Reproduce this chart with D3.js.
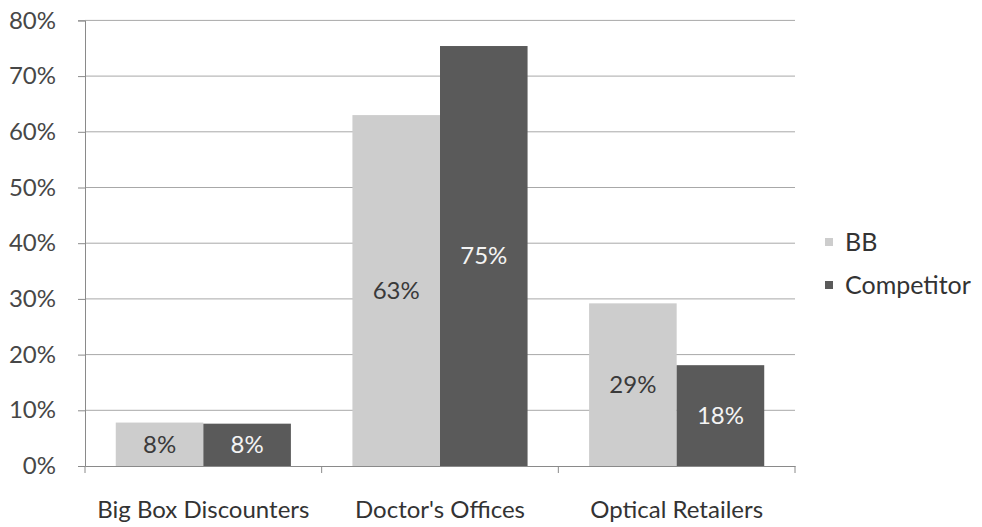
<!DOCTYPE html>
<html>
<head>
<meta charset="utf-8">
<script src="https://cdn.jsdelivr.net/npm/d3@7"></script>
<style>
  html, body { margin: 0; padding: 0; background: #fff; }
  svg { display: block; }
  text { font-family: Lato, "Open Sans", sans-serif; }
</style>
</head>
<body>
<svg id="chart" width="982" height="527"></svg>
<script>
// Share of purchases by channel
const categories = ["Big Box Discounters", "Doctor's Offices", "Optical Retailers"];
const seriesNames = ["BB", "Competitor"];
const bbValues = [7.8, 63.0, 29.2];
const competitorValues = [7.6, 75.4, 18.1];
const yTicks = [0, 10, 20, 30, 40, 50, 60, 70, 80];

const seriesValues = [bbValues, competitorValues];
const fills = ["#cdcdcd", "#5a5a5a"];
const labelColors = ["#3a3a3a", "#f4f4f4"];

const svg = d3.select("#chart");
const plotLeft = 85, plotRight = 795, plotTop = 20.4, plotBottom = 466;

const x = d3.scaleBand().domain(categories).range([plotLeft, plotRight])
  .paddingInner(0.26).paddingOuter(0.13);
const xSub = d3.scaleBand().domain(seriesNames).range([0, x.bandwidth()]);
const y = d3.scaleLinear().domain([0, 80]).range([plotBottom, plotTop]);

// horizontal gridlines
svg.append("g")
  .selectAll("line")
  .data(yTicks.filter(d => d > 0))
  .join("line")
  .attr("x1", plotLeft).attr("x2", plotRight)
  .attr("y1", d => y(d)).attr("y2", d => y(d))
  .attr("stroke", "#a8a8a8").attr("stroke-width", 1);

// y axis
const yAxis = svg.append("g")
  .attr("transform", `translate(${plotLeft},0)`)
  .call(d3.axisLeft(y).tickValues(yTicks).tickFormat(d => d + "%").tickSize(7).tickPadding(22));
yAxis.select(".domain").attr("stroke", "#8a8a8a");
yAxis.selectAll(".tick line").attr("stroke", "#8a8a8a");
yAxis.selectAll(".tick text").attr("font-size", 24).attr("fill", "#474747");

// bars
const groups = svg.append("g")
  .selectAll("g")
  .data(categories)
  .join("g")
  .attr("transform", d => `translate(${x(d)},0)`);

groups.selectAll("rect")
  .data((c, i) => seriesNames.map((s, j) => ({ s, j, v: seriesValues[j][i] })))
  .join("rect")
  .attr("x", d => xSub(d.s))
  .attr("width", xSub.bandwidth())
  .attr("y", d => y(d.v))
  .attr("height", d => y(0) - y(d.v))
  .attr("fill", d => fills[d.j]);

groups.selectAll("text")
  .data((c, i) => seriesNames.map((s, j) => ({ s, j, v: seriesValues[j][i] })))
  .join("text")
  .attr("x", d => xSub(d.s) + xSub.bandwidth() / 2)
  .attr("y", d => (y(d.v) + y(0)) / 2)
  .attr("dy", "0.35em")
  .attr("text-anchor", "middle")
  .attr("font-size", 24)
  .attr("fill", d => labelColors[d.j])
  .text(d => Math.round(d.v) + "%");

// x axis
const xAxis = svg.append("g")
  .attr("transform", `translate(0,${plotBottom})`)
  .call(d3.axisBottom(x).tickSize(0).tickPadding(35));
xAxis.select(".domain").attr("stroke", "#8a8a8a");
xAxis.selectAll(".tick text").attr("font-size", 24).attr("fill", "#333");
const boundaries = [plotLeft, ...categories.map(c => x(c) + x.bandwidth() + x.step() * 0.13)];
svg.append("g").selectAll("line")
  .data(boundaries)
  .join("line")
  .attr("x1", d => d).attr("x2", d => d)
  .attr("y1", plotBottom).attr("y2", plotBottom + 7)
  .attr("stroke", "#8a8a8a");

// legend
const legend = svg.append("g").attr("transform", "translate(825,242)");
seriesNames.forEach((name, i) => {
  const g = legend.append("g").attr("transform", `translate(0,${i * 43})`);
  g.append("rect").attr("x", 0).attr("y", -4).attr("width", 8).attr("height", 8).attr("fill", fills[i]);
  g.append("text").attr("x", 20).attr("y", 0).attr("dy", "0.35em")
    .attr("font-size", 25).attr("fill", "#333").text(name);
});
</script>
</body>
</html>
